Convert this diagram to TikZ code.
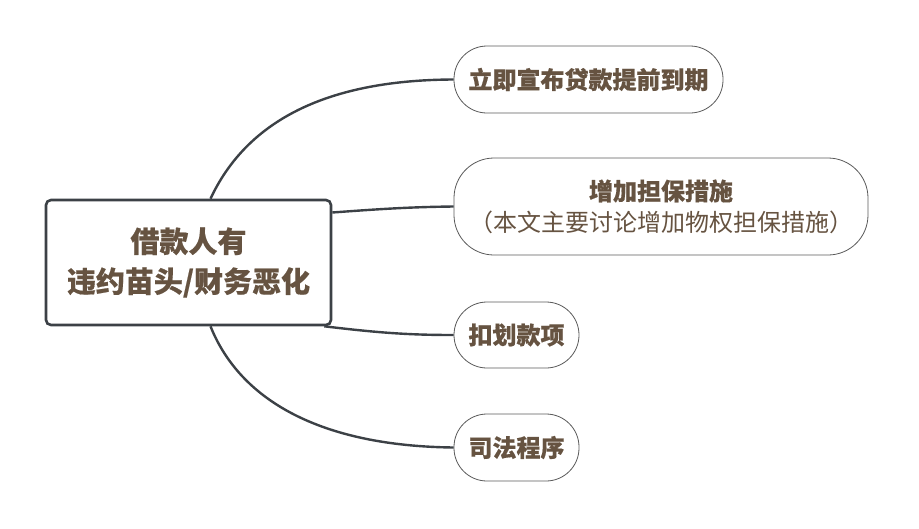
\documentclass[tikz,border=0pt]{standalone}
\usepackage{fontspec}
\setmainfont{Noto Sans CJK SC}
\newfontfamily\cjk{Noto Sans CJK SC}[BoldFeatures={FakeBold=0.5}]
\newfontfamily\cjkreg{Noto Sans CJK SC}
\definecolor{txtbrown}{HTML}{665341}
\definecolor{linegray}{HTML}{3C4146}
\definecolor{boxgray}{HTML}{5A5A5A}
\begin{document}
\begin{tikzpicture}[x=1pt,y=-1pt,
  centre/.style={draw=linegray,line width=2.6pt,rounded corners=5pt,fill=white,
    minimum width=285pt,minimum height=125pt,align=center,text=txtbrown,
    font=\cjk\bfseries\fontsize{29}{40}\selectfont,inner sep=0pt},
  branch/.style={draw=boxgray,line width=0.8pt,fill=white,align=center,text=txtbrown,
    font=\cjk\bfseries\fontsize{24}{31}\selectfont,inner sep=0pt},
  conn/.style={draw=linegray,line width=2.4pt}]
\useasboundingbox (0,0) rectangle (919,528);
\node[centre] (c) at (188.5,262.5) {借款人有\\违约苗头/财务恶化};
\node[branch,minimum width=269pt,minimum height=67pt,rounded corners=33pt] (n1) at (588.5,79.5) {立即宣布贷款提前到期};
\node[branch,minimum width=414pt,minimum height=97pt,rounded corners=40pt] (n2) at (661,206.5) {增加担保措施\\{\cjkreg\mdseries （本文主要讨论增加物权担保措施）}};
\node[branch,minimum width=125pt,minimum height=66pt,rounded corners=33pt] (n3) at (516.5,335) {扣划款项};
\node[branch,minimum width=125pt,minimum height=67pt,rounded corners=33pt] (n4) at (516.5,447.5) {司法程序};
\draw[conn] ([xshift=22pt]c.north) .. controls (245,125) and (320,80) .. (n1.west);
\draw[conn] ([yshift=50pt]c.east) .. controls (380,209) and (410,207) .. (n2.west);
\draw[conn] ([xshift=-8pt]c.south east) .. controls (380,333) and (410,335) .. (n3.west);
\draw[conn] ([xshift=22pt]c.south) .. controls (240,400) and (320,446) .. (n4.west);
\end{tikzpicture}
\end{document}
